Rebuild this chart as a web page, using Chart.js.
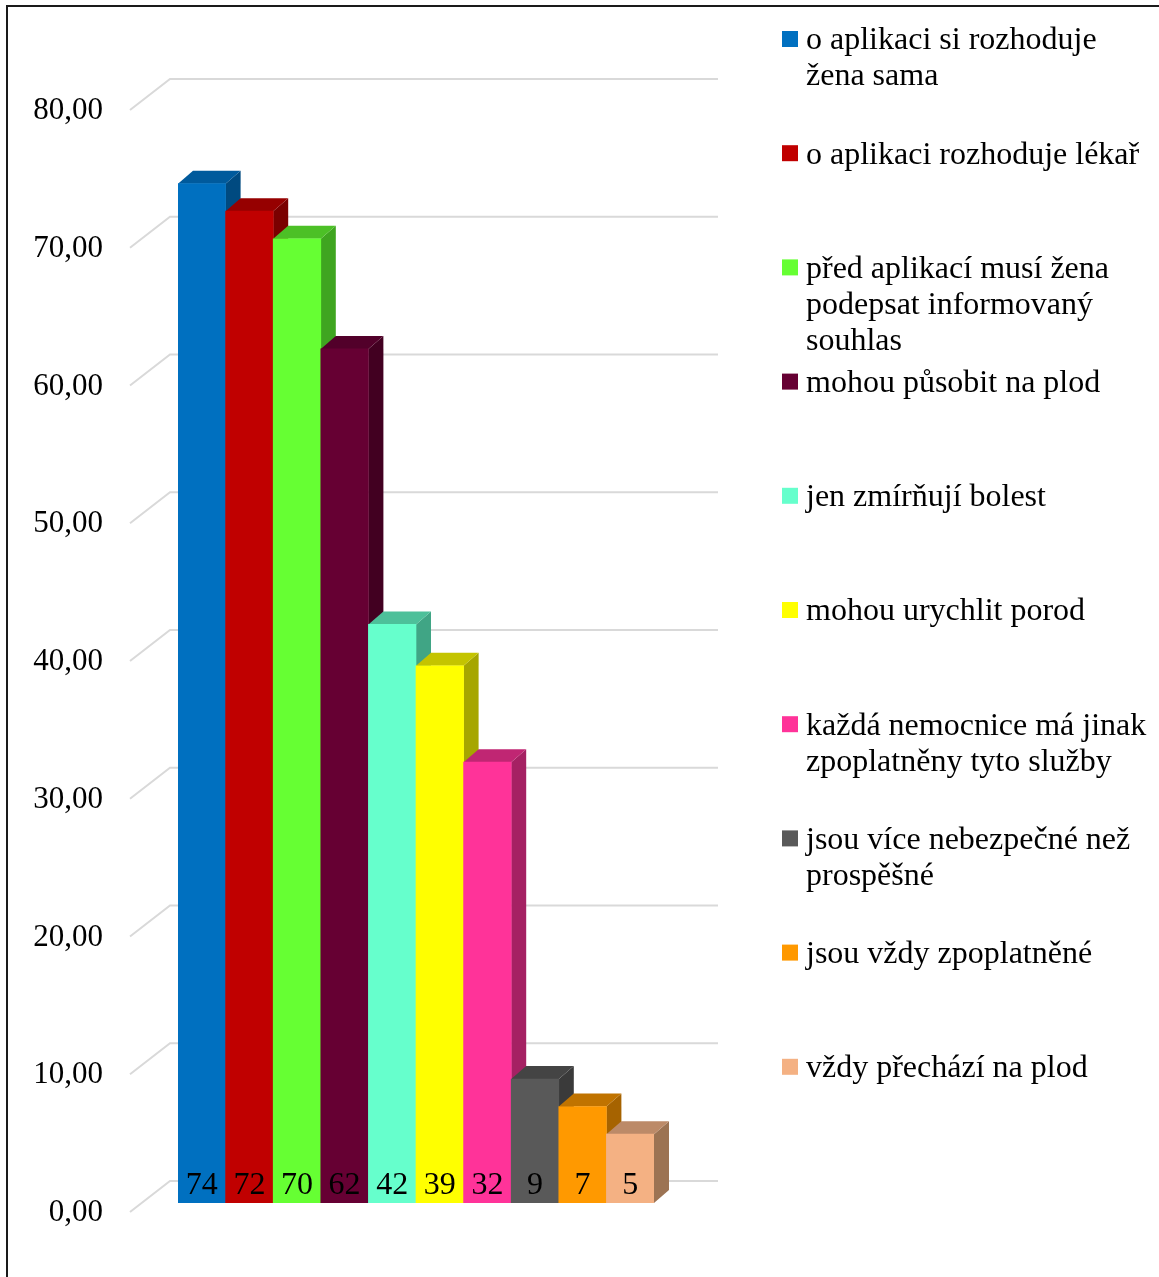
<!DOCTYPE html>
<html><head><meta charset="utf-8">
<script src="https://cdn.jsdelivr.net/npm/chart.js@4"></script>
<style>html,body{margin:0;padding:0;background:#fff}#wrap{position:relative;width:1159px;height:1277px}</style>
</head><body><div id="wrap"><canvas id="c"></canvas></div>
<script>
const categories = [
  'o aplikaci si rozhoduje žena sama',
  'o aplikaci rozhoduje lékař',
  'před aplikací musí žena podepsat informovaný souhlas',
  'mohou působit na plod',
  'jen zmírňují bolest',
  'mohou urychlit porod',
  'každá nemocnice má jinak zpoplatněny tyto služby',
  'jsou více nebezpečné než prospěšné',
  'jsou vždy zpoplatněné',
  'vždy přechází na plod'
];
const legendLines = [
  ['o aplikaci si rozhoduje', 'žena sama'],
  ['o aplikaci rozhoduje lékař'],
  ['před aplikací musí žena', 'podepsat informovaný', 'souhlas'],
  ['mohou působit na plod'],
  ['jen zmírňují bolest'],
  ['mohou urychlit porod'],
  ['každá nemocnice má jinak', 'zpoplatněny tyto služby'],
  ['jsou více nebezpečné než', 'prospěšné'],
  ['jsou vždy zpoplatněné'],
  ['vždy přechází na plod']
];
const values = [74, 72, 70, 62, 42, 39, 32, 9, 7, 5];
const frontColors = ['#0070C0','#C00000','#66FF33','#660033','#66FFCC','#FFFF00','#FF3399','#595959','#FF9900','#F4B183'];
const topColors   = ['#005A9C','#960000','#4CC026','#52002A','#4DC09A','#C4C400','#C02673','#444444','#C07300','#BC8A68'];
const sideColors  = ['#004A80','#7A0000','#3FA520','#420021','#40A585','#A6A600','#A52163','#3A3A3A','#A66300','#9C7353'];
const yMin = 0, yMax = 80, yStep = 10;

const DX = 15, DY = 13;
const SERIF = "'Liberation Serif', 'Times New Roman', serif";

const plugin3d = {
  id: 'bars3d',
  beforeDraw(chart) {
    const ctx = chart.ctx;
    ctx.save();
    ctx.strokeStyle = '#1a1a1a';
    ctx.lineWidth = 2;
    ctx.beginPath();
    ctx.moveTo(7, 1277); ctx.lineTo(7, 6); ctx.lineTo(1159, 6);
    ctx.stroke();
    ctx.restore();
  },
  beforeDatasetsDraw(chart) {
    const ctx = chart.ctx, ys = chart.scales.y;
    ctx.save();
    ctx.strokeStyle = '#d9d9d9';
    ctx.lineWidth = 2;
    ys.ticks.forEach(t => {
      const py = ys.getPixelForValue(t.value);
      ctx.beginPath();
      ctx.moveTo(130, py + 9);
      ctx.lineTo(170, py - 22);
      ctx.lineTo(718, py - 22);
      ctx.stroke();
    });
    const meta = chart.getDatasetMeta(0);
    meta.data.forEach((bar, i) => {
      const p = bar.getProps(['x', 'y', 'base', 'width'], true);
      const l = p.x - p.width / 2, r = p.x + p.width / 2, top = p.y, base = p.base;
      ctx.fillStyle = sideColors[i];
      ctx.beginPath();
      ctx.moveTo(r, top); ctx.lineTo(r + DX, top - DY); ctx.lineTo(r + DX, base - DY); ctx.lineTo(r, base);
      ctx.closePath(); ctx.fill();
      ctx.fillStyle = topColors[i];
      ctx.beginPath();
      ctx.moveTo(l, top); ctx.lineTo(l + DX, top - DY); ctx.lineTo(r + DX, top - DY); ctx.lineTo(r, top);
      ctx.closePath(); ctx.fill();
    });
    ctx.restore();
  },
  afterDatasetsDraw(chart) {
    const ctx = chart.ctx;
    const meta = chart.getDatasetMeta(0);
    ctx.save();
    ctx.fillStyle = '#000';
    ctx.font = '32px ' + SERIF;
    ctx.textAlign = 'center';
    ctx.textBaseline = 'middle';
    meta.data.forEach((bar, i) => {
      const p = bar.getProps(['x', 'base'], true);
      ctx.fillText(String(values[i]), p.x, p.base - 17);
    });
    ctx.restore();
  },
  afterDraw(chart) {
    const ctx = chart.ctx;
    ctx.save();
    ctx.font = '32px ' + SERIF;
    ctx.textAlign = 'left';
    ctx.textBaseline = 'middle';
    legendLines.forEach((lines, i) => {
      const y0 = 41 + i * 114.2;
      ctx.fillStyle = frontColors[i];
      ctx.fillRect(782, y0 - 10, 16, 16);
      ctx.fillStyle = '#000';
      lines.forEach((ln, j) => ctx.fillText(ln, 806, y0 + j * 36));
    });
    ctx.restore();
  }
};

new Chart(document.getElementById('c'), {
  type: 'bar',
  data: {
    labels: categories,
    datasets: [{
      data: values,
      backgroundColor: frontColors,
      borderWidth: 0,
      barPercentage: 1,
      categoryPercentage: 1
    }]
  },
  options: {
    responsive: true,
    maintainAspectRatio: false,
    animation: false,
    devicePixelRatio: 1,
    layout: { padding: { left: 10, right: 505, top: 101, bottom: 74 } },
    plugins: { legend: { display: false }, tooltip: { enabled: false } },
    scales: {
      x: { display: false },
      y: {
        min: yMin, max: yMax,
        grid: { display: false, drawTicks: true, tickLength: 75 },
        border: { display: false },
        afterFit(scale) { scale.width = 168; },
        ticks: {
          stepSize: yStep,
          padding: 0,
          labelOffset: 10,
          color: '#000',
          font: { family: SERIF, size: 31 },
          callback: v => Number(v).toFixed(2).replace('.', ',')
        }
      }
    }
  },
  plugins: [plugin3d]
});
</script>
</body></html>
